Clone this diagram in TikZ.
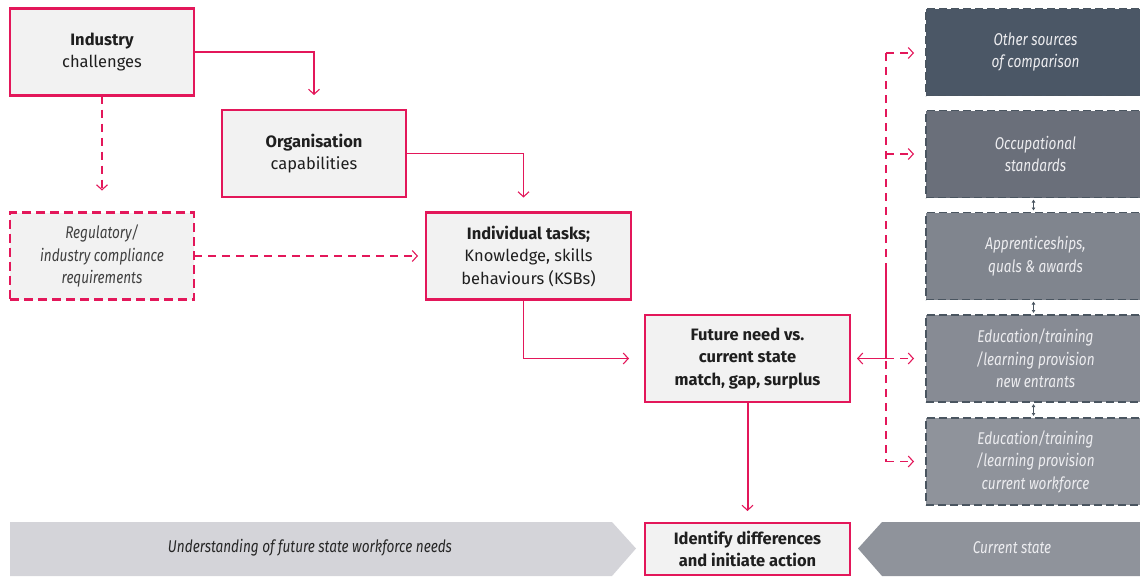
\documentclass[tikz,border=0pt]{standalone}
\usepackage{fontspec}
\setmainfont{Fira Sans}
\newfontfamily\condit[FakeStretch=0.80]{Fira Sans}
\usetikzlibrary{arrows.meta}
\definecolor{crim}{HTML}{E3175A}
\definecolor{boxfill}{HTML}{F2F2F2}
\definecolor{ga}{HTML}{4B5766}
\definecolor{gb}{HTML}{6A6F7A}
\definecolor{gc}{HTML}{80858E}
\definecolor{gd}{HTML}{878B94}
\definecolor{ge}{HTML}{8F939B}
\definecolor{gborder}{HTML}{4A5560}
\definecolor{lightarrow}{HTML}{D4D4D9}
\definecolor{softwhite}{HTML}{EDEDF0}
\begin{document}
\begin{tikzpicture}[x=1pt,y=-1pt,
  txt/.style={font=\fontsize{16.5}{22.5}\selectfont, align=center, text=black!88},
  itxt/.style={font=\condit\itshape\fontsize{17}{22.5}\selectfont, align=center},
  redbox/.style={txt, draw=crim, line width=2.8pt, fill=boxfill, minimum width=184pt, minimum height=87pt, inner sep=0pt, outer sep=0pt},
  redboxw/.style={redbox, minimum width=205pt},
  regbox/.style={redbox, itxt, text=black!75, dash pattern=on 9pt off 5pt},
  greybox/.style={itxt, text=softwhite, draw=gborder, line width=1.3pt, dash pattern=on 8pt off 4pt, minimum width=219pt, minimum height=87pt, inner sep=0pt, outer sep=0pt},
  conn/.style={draw=crim, line width=1.1pt, -{Straight Barb[length=5pt,width=11pt,line width=1.1pt]}},
  dconn/.style={conn, dash pattern=on 8pt off 6pt},
  dbl/.style={draw=gborder, line width=1pt, {Latex[length=3pt,width=4pt]}-{Latex[length=3pt,width=4pt]}, shorten <=2pt, shorten >=2pt}
]
\useasboundingbox (0,0) rectangle (1140,576);

% bottom arrows
\fill[lightarrow] (10,522) -- (612,522) -- (636,548.5) -- (612,576) -- (10,576) -- cycle;
\fill[ge] (1140,522) -- (882,522) -- (858,548.5) -- (882,576) -- (1140,576) -- cycle;
\node[itxt, text=black!85] (under) at (310,548) {Understanding of future state workforce needs};
\node[itxt, text=softwhite] (cur) at (1012,548) {Current state};

% red boxes
\node[redbox] (ind) at (102,52) {{\bfseries Industry}\\challenges};
\node[redbox] (org) at (314,153.5) {{\bfseries Organisation}\\capabilities};
\node[regbox] (reg) at (102,256) {Regulatory/\\industry compliance\\requirements};
\node[redboxw] (tsk) at (528.5,256) {{\bfseries Individual tasks;}\\Knowledge, skills\\behaviours (KSBs)};
\node[redboxw, font=\bfseries\fontsize{16.5}{22.5}\selectfont] (fut) at (747.5,358.5) {Future need vs.\\current state\\match, gap, surplus};
\node[redboxw, minimum height=52pt, font=\bfseries\fontsize{16.5}{22.5}\selectfont] (idf) at (747.5,549) {Identify differences\\and initiate action};

% grey boxes
\node[greybox, fill=ga] (o1) at (1035.5,52) {Other sources\\of comparison};
\node[greybox, fill=gb] (o2) at (1035.5,154) {Occupational\\standards};
\node[greybox, fill=gc] (o3) at (1035.5,256) {Apprenticeships,\\quals \& awards};
\node[greybox, fill=gd] (o4) at (1035.5,358.5) {Education/training\\/learning provision\\new entrants};
\node[greybox, fill=ge] (o5) at (1035.5,461.5) {Education/training\\/learning provision\\current workforce};

\coordinate (bus) at (886,0);

% double arrows between grey boxes
\draw[dbl] ([xshift=-2pt]o2.south) -- ([xshift=-2pt]o3.north);
\draw[dbl] ([xshift=-2pt]o3.south) -- ([xshift=-2pt]o4.north);
\draw[dbl] ([xshift=-2pt]o4.south) -- ([xshift=-2pt]o5.north);

% connectors
\draw[conn] (ind.east) -| ([yshift=15pt]org.north);
\draw[dconn] (ind.south) -- ([yshift=22pt]reg.north);
\draw[conn] (org.east) -| ([xshift=-5pt,yshift=15pt]tsk.north);
\draw[dconn] (reg.east) -- ([xshift=-8pt]tsk.west);
\draw[conn] ([xshift=-5pt]tsk.south) |- ([xshift=-16pt]fut.west);
\draw[conn, line width=2pt] (fut.south) -- ([yshift=12pt]idf.north);

% right side bus
\draw[crim, line width=1.1pt, dash pattern=on 8pt off 6pt] ([yshift=-1pt]o1.west -| bus) -- (o5.west -| bus);
\draw[crim, line width=1.1pt] (o3.west -| bus) ++(0,9) -- (fut.east -| bus);
\draw[conn] (fut.east -| bus) -- ([xshift=7pt]fut.east);
\draw[dconn] ([yshift=-1pt]o1.west -| bus) -- ([xshift=-12pt,yshift=-1pt]o1.west);
\draw[dconn] (o2.west -| bus) -- ([xshift=-12pt]o2.west);
\draw[dconn] (fut.east -| bus) -- ([xshift=-12pt]o4.west);
\draw[dconn] (o5.west -| bus) -- ([xshift=-12pt]o5.west);
\end{tikzpicture}
\end{document}
